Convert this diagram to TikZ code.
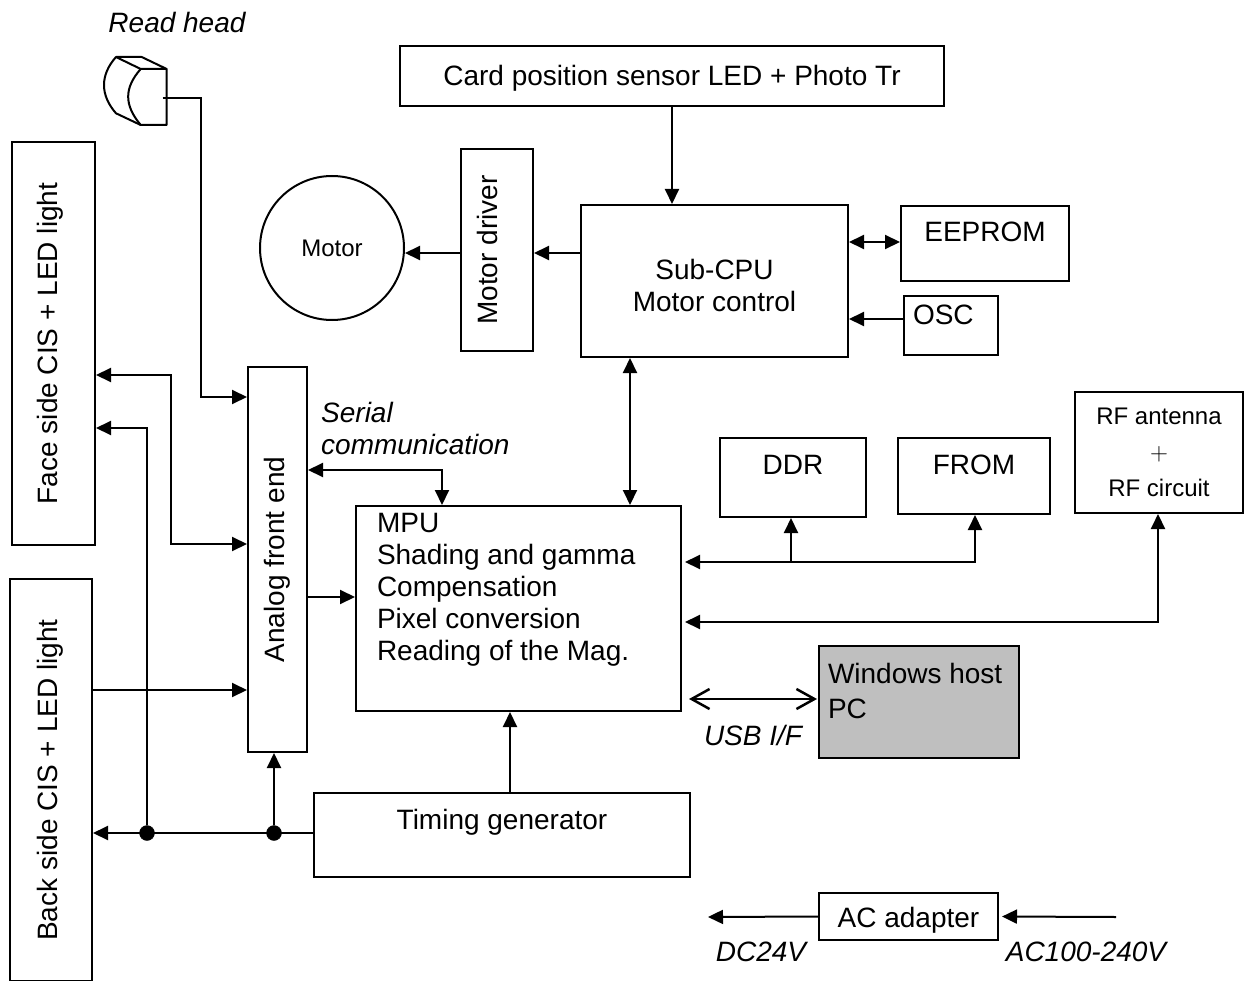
\documentclass[tikz,border=0pt]{standalone}
\usepackage{fontspec}
\setmainfont{Liberation Sans}
\usetikzlibrary{arrows.meta,calc}

\tikzset{
	wire/.style={line width=2pt,-{Triangle[length=15pt,width=14pt]}},
	twoway/.style={line width=2pt,{Triangle[length=15pt,width=14pt]}-{Triangle[length=15pt,width=14pt]}},
	openway/.style={line width=2.5pt,{Straight Barb[length=18pt,width=20pt]}-{Straight Barb[length=18pt,width=20pt]}},
	box/.style={draw,line width=2pt,inner sep=0pt,font=\fontsize{28}{32}\selectfont},
	smallbox/.style={box,font=\fontsize{24}{36}\selectfont},
	tag/.style={inner sep=0pt,font=\fontsize{28}{32}\selectfont\itshape},
	dot/.style={draw,fill=black,shape=circle,inner sep=0pt,minimum size=15pt}
}

\begin{document}
\begin{tikzpicture}[x=1pt,y=-1pt]
\useasboundingbox (0,0) rectangle (1244,981);

% boxes
\node[box,minimum width=544,text height=40pt,text depth=20pt] (card) at (672,76) {Card position sensor LED + Photo Tr};
\node[box,rotate=90,minimum width=202,text height=36pt,text depth=36pt] (driver) at (497,250) {Motor driver};
\node[box,minimum width=267,minimum height=152,align=center] (subcpu) at (714.5,281) {\rule{0pt}{30pt}Sub-CPU\\Motor control};
\node[box,minimum width=168,text height=36pt,text depth=39pt,align=center] (eeprom) at (985,243.5) {EEPROM};
\node[box,text width=76pt,inner xsep=9pt,text height=29pt,text depth=30pt] (osc) at (951,325.5) {OSC};
\node[smallbox,shape=circle,minimum size=144pt] (motor) at (332,248) {Motor};
\node[box,rotate=90,minimum width=403,text height=45pt,text depth=38pt] (face) at (53.5,343.5) {Face side CIS + LED light};
\node[box,rotate=90,minimum width=402,text height=47pt,text depth=35pt] (back) at (51,780) {Back side CIS + LED light};
\node[box,rotate=90,minimum width=385,text height=36pt,text depth=23pt] (afe) at (277.5,559.5) {Analog front end};
\node[box,minimum width=325,minimum height=205] (mpu) at (518.5,608.5) {};
\node[box,anchor=north west,draw=none,align=left] (mputext) at (376,512) {MPU\\Shading and gamma\\Compensation\\Pixel conversion\\Reading of the Mag.};
\node[box,minimum width=146,text height=36pt,text depth=43pt,align=center] (ddr) at (793,477.5) {DDR};
\node[box,minimum width=152,text height=36pt,text depth=40pt,align=center] (from) at (974,476) {FROM};
\node[smallbox,minimum width=168,minimum height=121,align=center] (rf) at (1159,452.5) {RF antenna\\$+$\\RF circuit};
\node[box,fill=black!25,minimum width=200,minimum height=112] (host) at (919,702) {};
\node[box,draw=none,anchor=north west,align=left,font=\fontsize{28}{35}\selectfont] (hosttext) at (827,662) {Windows host\\PC};
\node[box,minimum width=376,text height=36pt,text depth=48pt,align=center] (timing) at (502,835) {Timing generator};
\node[box,minimum width=179,text height=34pt,text depth=13pt] (adapter) at (908.5,916.5) {AC adapter};

% labels
\node[tag] (readlabel) at (177,23) {Read head};
\node[tag,anchor=north west,align=left] (seriallabel) at (321,402) {Serial\\communication};
\node[tag] (usblabel) at (753,735) {USB I/F};
\node[tag] (dclabel) at (761,952) {DC24V};
\node[tag] (aclabel) at (1086,952) {AC100-240V};

% read head
\draw[line width=2pt,line join=round] (116,57) -- (141.7,57) -- (166.7,69) -- (166.7,125) -- (140.7,125)
	.. controls (124,105) and (124,88) .. (140.7,69) -- (166.7,69);
\draw[line width=2pt,line join=round] (140.7,69) -- (116,57) .. controls (100,75) and (100,95) .. (116,113.3) -- (140.7,125);
\coordinate (headwire) at (162.7,98);

% junctions
\node[dot] (dotleft) at (147,833) {};
\node[dot] (dotright) at (274,833) {};

% connectors
\draw[wire] (card.south -| 672,0) -- (subcpu.north -| 672,0);
\draw[wire] (subcpu.west |- 0,253) -- (driver.south |- 0,253);
\draw[wire] (driver.north |- 0,253) -- (motor.east |- 0,253);
\draw[twoway] (subcpu.east |- 0,242) -- (eeprom.west |- 0,242);
\draw[wire] (osc.west |- 0,319) -- (subcpu.east |- 0,319);
\draw[twoway] (subcpu.south -| 630,0) -- (mpu.north -| 630,0);
\draw[wire] (headwire) -- (201,98) -- (201,397) -- (afe.north |- 0,397);
\draw[twoway] (face.south |- 0,375) -- (171,375) -- (171,544) -- (afe.north |- 0,544);
\draw[wire] (dotleft) -- (147,428) -- (face.south |- 0,428);
\draw[wire] (timing.west |- dotleft) -- (back.south |- dotleft);
\draw[wire] (dotright) -- (dotright |- afe.west);
\draw[wire] (back.south |- 0,690) -- (afe.north |- 0,690);
\draw[wire] (afe.south |- 0,597) -- (mpu.west |- 0,597);
\draw[twoway] (afe.south |- 0,470) -- (442,470) -- (mpu.north -| 442,0);
\draw[twoway,shorten <=3pt] (mpu.east |- 0,562) -- (975,562) -- (from.south -| 975,0);
\draw[wire] (791,562) -- (ddr.south -| 791,0);
\draw[twoway,shorten <=3pt] (mpu.east |- 0,622) -- (1158,622) -- (rf.south -| 1158,0);
\draw[openway,shorten <=7pt,shorten >=1pt] (mpu.east |- 0,699) -- (host.west |- 0,699);
\draw[wire] (timing.north -| 510,0) -- (mpu.south -| 510,0);
\draw[wire] (adapter.west) -- (708,917);
\coordinate (acin) at (1116,917);
\draw[wire,shorten >=3pt] (acin) -- (adapter.east);
\end{tikzpicture}
\end{document}
